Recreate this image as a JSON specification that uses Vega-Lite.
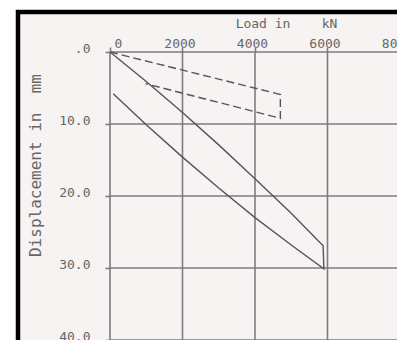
{
  "$schema": "https://vega.github.io/schema/vega-lite/v6.json",
  "width": 383,
  "height": 330,
  "autosize": {"type": "none"},
  "padding": {"left": 18, "top": 12, "right": -4, "bottom": -2},
  "background": "#ffffff",
  "config": {
    "view": {"fill": "#f7f3f2", "stroke": "#000000", "strokeWidth": 4.5, "strokeDash": [383, 713, 330, 0], "strokeCap": "square"},
    "font": "DejaVu Sans Mono"
  },
  "datasets": {
    "vgrid": [{"load": 0}, {"load": 2000}, {"load": 4000}, {"load": 6000}, {"load": 8000}],
    "hgrid": [{"disp": 0}, {"disp": 10}, {"disp": 20}, {"disp": 30}, {"disp": 40}],
    "solid": [
      {"i": 0, "load": 0, "disp": 0},
      {"i": 1, "load": 1000, "disp": 4.1},
      {"i": 2, "load": 2000, "disp": 8.4},
      {"i": 3, "load": 3000, "disp": 12.9},
      {"i": 4, "load": 4000, "disp": 17.6},
      {"i": 5, "load": 5000, "disp": 22.4},
      {"i": 6, "load": 5880, "disp": 26.9},
      {"i": 7, "load": 5900, "disp": 30.1},
      {"i": 8, "load": 5000, "disp": 26.8},
      {"i": 9, "load": 4000, "disp": 23.0},
      {"i": 10, "load": 3000, "disp": 18.9},
      {"i": 11, "load": 2000, "disp": 14.6},
      {"i": 12, "load": 1000, "disp": 10.1},
      {"i": 13, "load": 90, "disp": 5.8}
    ],
    "dashed": [
      {"i": 0, "load": 0, "disp": 0},
      {"i": 1, "load": 4700, "disp": 5.9},
      {"i": 2, "load": 4700, "disp": 9.2},
      {"i": 3, "load": 980, "disp": 4.4}
    ]
  },
  "layer": [
    {
      "data": {"name": "vgrid"},
      "mark": {"type": "rule", "color": "#7d7d7d", "strokeWidth": 1.6},
      "encoding": {
        "x": {
          "field": "load", "type": "quantitative",
          "scale": {"domain": [-2538, 8028], "nice": false, "zero": false},
          "axis": {
            "orient": "top", "offset": -40, "values": [0, 2000, 4000, 6000, 8000],
            "format": "d", "domain": false, "grid": false,
            "ticks": true, "tickSize": 5, "tickColor": "#7d7d7d", "tickWidth": 1.6,
            "labelFont": "DejaVu Sans Mono", "labelFontSize": 13, "labelColor": "#666666",
            "labelPadding": 0, "labelBaseline": "alphabetic", "labelFlush": false,
            "labelOverlap": false,
            "labelOffset": {"condition": {"test": "datum.value == 0", "value": 8}, "value": -3},
            "title": "Load in\u00a0\u00a0\u00a0\u00a0kN",
            "titleFont": "DejaVu Sans Mono", "titleFontSize": 13, "titleFontWeight": "normal",
            "titleColor": "#666666", "titleX": 268, "titleY": -25,
            "titleBaseline": "alphabetic", "titleAlign": "center"
          }
        },
        "y": {"datum": 0, "type": "quantitative"},
        "y2": {"datum": 40.3}
      }
    },
    {
      "data": {"name": "hgrid"},
      "mark": {"type": "rule", "color": "#7d7d7d", "strokeWidth": 1.6},
      "encoding": {
        "y": {
          "field": "disp", "type": "quantitative",
          "scale": {"domain": [-5.556, 40.278], "reverse": true, "nice": false, "zero": false},
          "axis": {
            "orient": "left", "offset": -92, "values": [0, 10, 20, 30, 40],
            "domain": false, "grid": false,
            "ticks": true, "tickSize": 5, "tickColor": "#7d7d7d", "tickWidth": 1.6,
            "labelFont": "DejaVu Sans Mono", "labelFontSize": 13, "labelColor": "#666666",
            "labelPadding": 15, "labelBaseline": "middle", "labelFlush": false,
            "labelOverlap": false, "labelOffset": -3.5,
            "labelExpr": "datum.value == 0 ? '.0' : format(datum.value, '.1f')",
            "title": "Displacement in\u00a0\u00a0mm",
            "titleFont": "DejaVu Sans Mono", "titleFontSize": 16, "titleFontWeight": "normal",
            "titleColor": "#666666", "titleX": -70, "titleY": 153, "titleAngle": -90,
            "titleBaseline": "alphabetic", "titleAlign": "center"
          }
        },
        "x": {"datum": 0, "type": "quantitative"},
        "x2": {"datum": 8100}
      }
    },
    {
      "data": {"name": "solid"},
      "mark": {"type": "line", "color": "#555555", "strokeWidth": 1.4},
      "encoding": {
        "x": {"field": "load", "type": "quantitative"},
        "y": {"field": "disp", "type": "quantitative"},
        "order": {"field": "i", "type": "quantitative"}
      }
    },
    {
      "data": {"name": "dashed"},
      "mark": {"type": "line", "color": "#555555", "strokeWidth": 1.4, "strokeDash": [8, 4]},
      "encoding": {
        "x": {"field": "load", "type": "quantitative"},
        "y": {"field": "disp", "type": "quantitative"},
        "order": {"field": "i", "type": "quantitative"}
      }
    }
  ]
}
